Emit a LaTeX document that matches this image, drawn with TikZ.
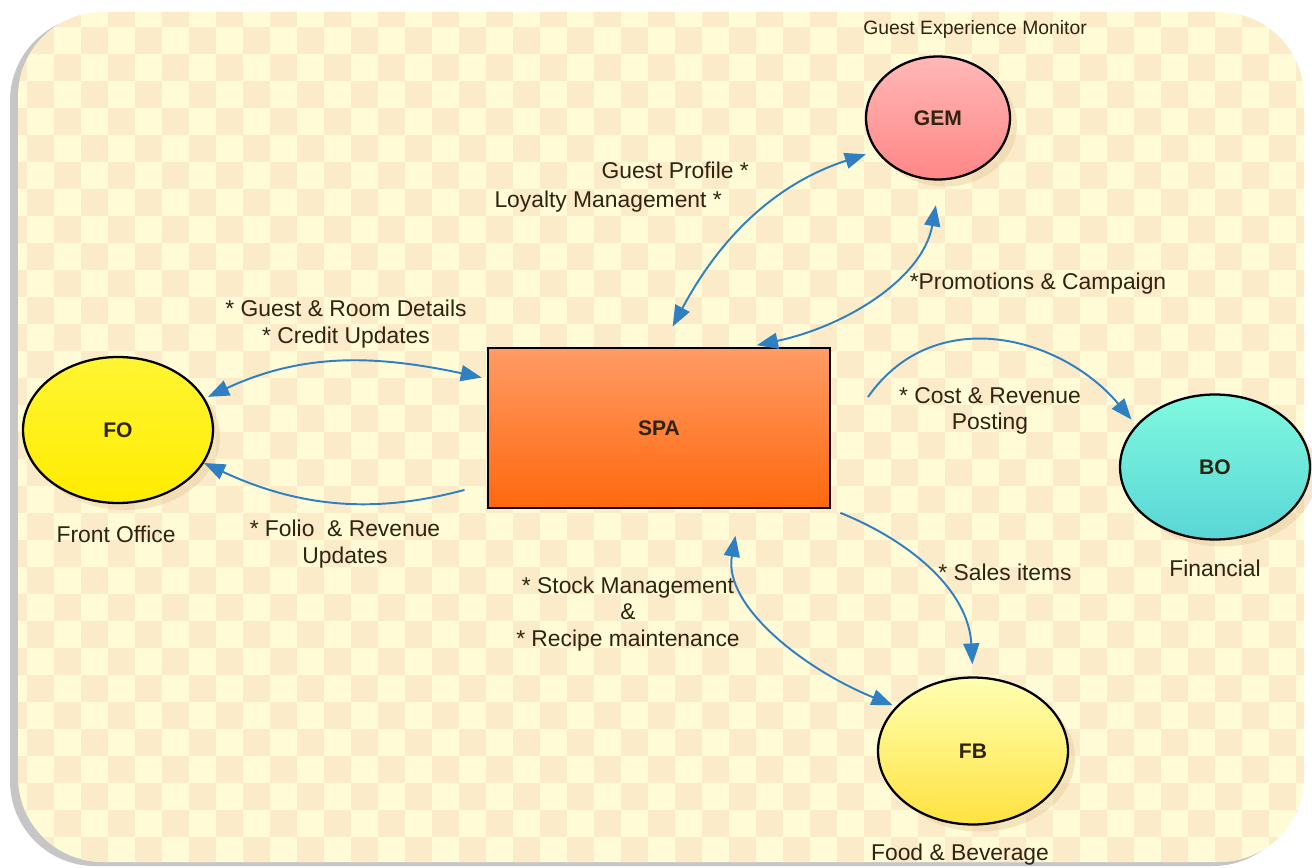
\documentclass[tikz,border=0pt]{standalone}
\usepackage{fontspec}
\setmainfont{Liberation Sans}
\usepackage{xcolor}
\definecolor{panel}{HTML}{FFFBD6}
\definecolor{check}{HTML}{FBEBC9}
\definecolor{arrowblue}{HTML}{2E80C2}
\definecolor{ink}{HTML}{2E2410}
\usepackage{tikz}
\usetikzlibrary{shapes.geometric,arrows.meta,shadows}

\begin{document}
\begin{tikzpicture}[x=0.02cm,y=0.02cm,font=\fontsize{13}{15}\selectfont,text=ink,
  unit/.style={ellipse,draw=black,line width=1.3pt,minimum width=3.8cm,minimum height=2.92cm,
    font=\fontsize{12}{14}\selectfont\bfseries,
    drop shadow={shadow xshift=4pt,shadow yshift=-4pt,fill=check!70!brown,opacity=0.45}},
  link/.style={arrowblue,line width=1.1pt,-{Triangle[length=0.42cm,width=0.32cm]}},
  twoway/.style={link,{Triangle[length=0.42cm,width=0.32cm]}-{Triangle[length=0.42cm,width=0.32cm]}},
  note/.style={align=center,text=ink}]
  % page and panel
  \useasboundingbox[fill=white] (0,0) rectangle (1312,-868);
  \fill[gray!45,rounded corners=1.7cm] (10,-16) rectangle (1298,-866);
  \fill[panel,rounded corners=1.7cm] (18,-12) rectangle (1304,-862);
  \begin{scope}
    \clip[rounded corners=1.7cm] (18,-12) rectangle (1304,-862);
    \foreach \j in {0,...,32}
      \foreach \i in {0,2,...,48} {
        \pgfmathsetmacro\xx{(\i+mod(\j,2))*27}
        \fill[check] (\xx,-\j*27) rectangle ++(27,-27);
      }
  \end{scope}
  % units
  \node[draw=black,line width=1.3pt,minimum width=6.84cm,minimum height=3.2cm,
    top color=orange!70!red!60,bottom color=orange!75!red!95,
    font=\fontsize{12}{14}\selectfont\bfseries] (SPA) at (659,-428) {SPA};
  \node[unit,top color=yellow!90!orange!80,bottom color=yellow!85!orange] (FO) at (118,-430) {FO};
  \node[unit,minimum width=2.88cm,minimum height=2.46cm,top color=red!20!pink!70,bottom color=red!30!pink] (GEM) at (938,-118) {GEM};
  \node[unit,minimum height=2.9cm,top color=teal!30!green!30!cyan!50,bottom color=teal!50!cyan!65] (BO) at (1215,-467) {BO};
  \node[unit,minimum height=2.94cm,top color=yellow!30,bottom color=yellow!70!orange!75] (FB) at (973,-751) {FB};
  \node[note] (FOname) at (116,-534) {Front Office};
  \node[note,font=\fontsize{11}{13}\selectfont] (GEMname) at (975,-30) {Guest Experience Monitor};
  \node[note] (BOname) at (1215,-568) {Financial};
  \node[note] (FBname) at (960,-855) {Food \& Beverage};
  % flows
  \coordinate (costfrom) at (868,-397);
  \draw[twoway,shorten <=2pt,shorten >=3pt] (FO.20) to[out=25,in=168] (SPA.164);
  \draw[link,shorten <=12\pgflinewidth] (SPA.198) to[out=195,in=-25] (FO.-21);
  \draw[twoway,shorten <=6pt,shorten >=0.46cm] (GEM.208) to[out=198,in=62] (SPA.88);
  \draw[twoway,shorten <=0.16cm,shorten >=0.5cm] (SPA.42) to[out=12,in=-100] (GEM.-88);
  \draw[link,shorten >=4pt] (costfrom) to[out=55,in=130,looseness=1.1] (BO.152);
  \draw[link,shorten <=0.2cm,shorten >=0.24cm] (SPA.south east) to[out=-22,in=93] (FB.north);
  \draw[twoway,shorten <=0.54cm,shorten >=2pt] (SPA.-45) to[out=-100,in=158] (FB.150);
  % labels
  \node[note] (gr) at (346,-324) {* Guest \& Room Details\\* Credit Updates};
  \node[note] (fr) at (345,-544) {* Folio~ \& Revenue\\Updates};
  \node[note,anchor=east] (gp) at (755,-170) {Guest Profile *};
  \node[note,anchor=east] (lm) at (728,-202) {Loyalty Management *};
  \node[note] (pc) at (1038,-284) {*Promotions \& Campaign};
  \node[note] (cr) at (990,-411) {* Cost \& Revenue\\Posting};
  \node[note] (si) at (1005,-572) {* Sales items};
  \node[note] (sm) at (628,-614) {* Stock Management\\\&\\* Recipe maintenance};
\end{tikzpicture}
\end{document}
